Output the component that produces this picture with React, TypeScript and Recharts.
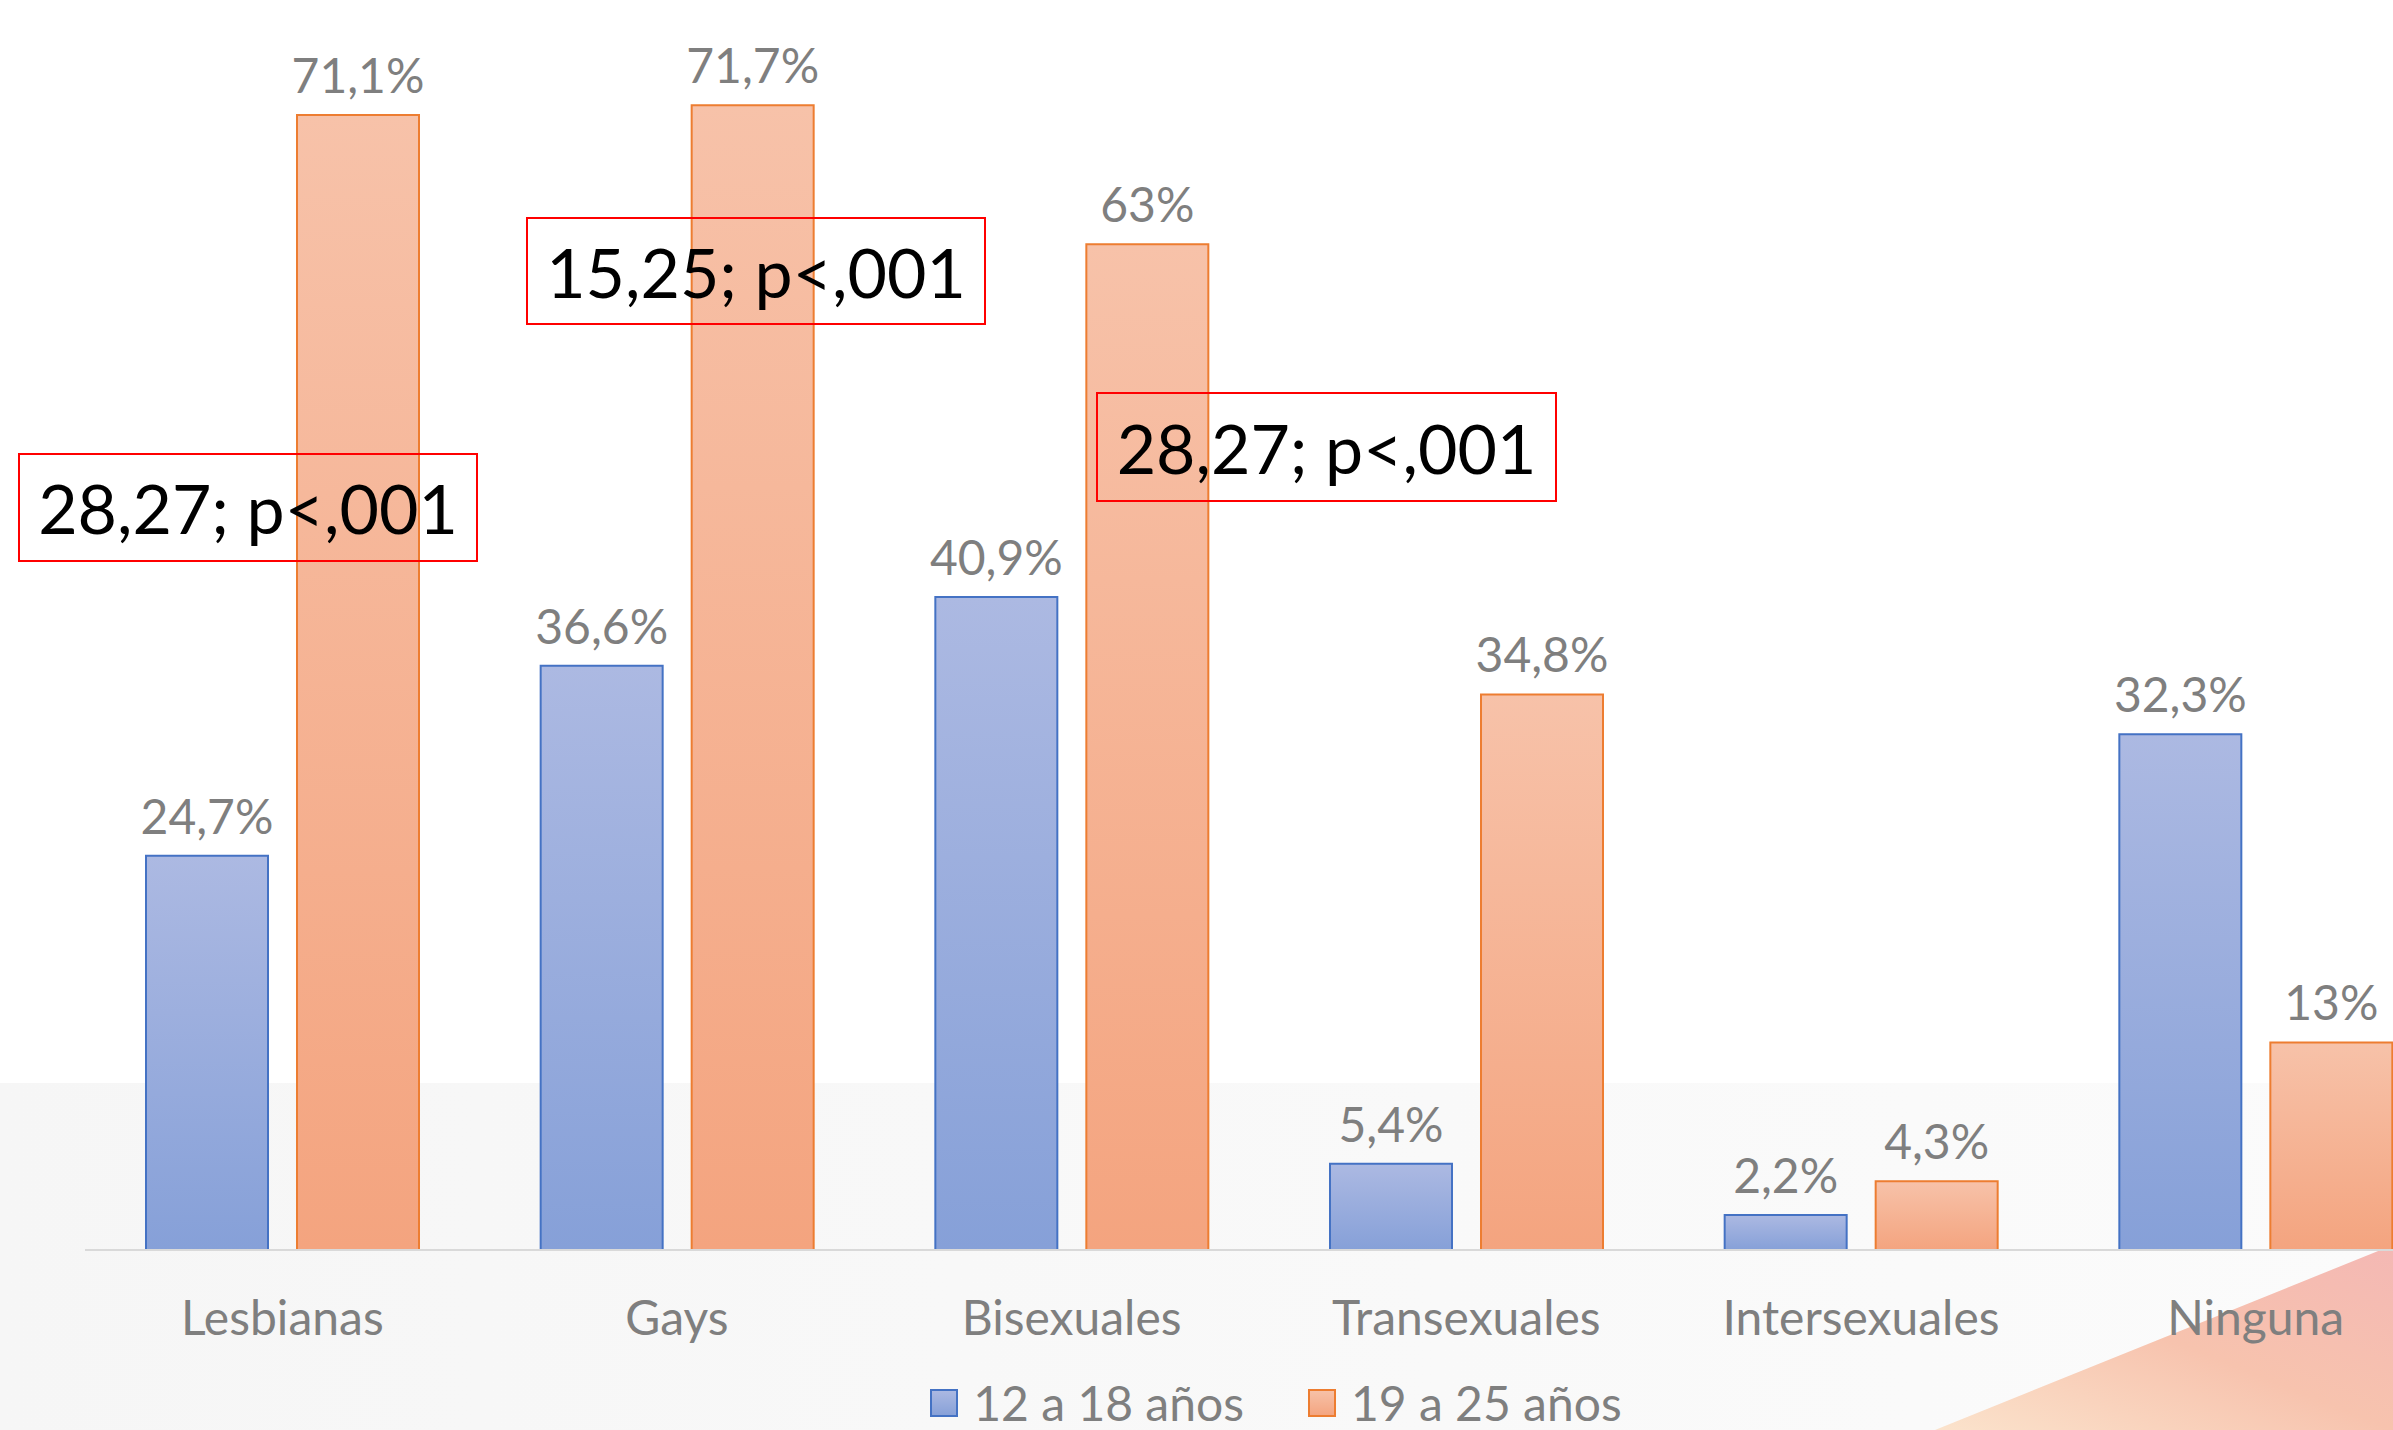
import { BarChart, Bar, XAxis, YAxis, LabelList } from 'recharts';

const categories = ['Lesbianas', 'Gays', 'Bisexuales', 'Transexuales', 'Intersexuales', 'Ninguna'];
const young = [24.7, 36.6, 40.9, 5.4, 2.2, 32.3];
const older = [71.1, 71.7, 63, 34.8, 4.3, 13];
const seriesNames = ['12 a 18 años', '19 a 25 años'];
const notes = ['28,27; p<,001', '15,25; p<,001', '28,27; p<,001'];

const data = categories.map((name, i) => ({ name, young: young[i], older: older[i] }));

const fmt = (v: any) => String(v).replace('.', ',') + '%';

const FONT = 'Lato, "Open Sans", sans-serif';
const GRAY = '#7f7f7f';

// where the three chi-square boxes sit on the slide
const noteBoxes = [
    { left: 18, top: 453, width: 460, height: 109 },
    { left: 526, top: 217, width: 460, height: 108 },
    { left: 1096, top: 392, width: 461, height: 110 },
];

const legendItems = [
    { label: seriesNames[0], fill: 'url(#gBlue)', stroke: '#4472c4' },
    { label: seriesNames[1], fill: 'url(#gOrange)', stroke: '#ed7d31' },
];

function LegendBox() {
    return (
        <div style={{ position: 'absolute', left: 92, top: 1374, width: 2368, display: 'flex', justifyContent: 'center', gap: 64, fontFamily: FONT, fontSize: 48, color: GRAY }}>
            {legendItems.map((it) => (
                <div key={it.label} style={{ display: 'flex', alignItems: 'center', gap: 15 }}>
                    <svg width={28} height={28}>
                        <rect x={1} y={1} width={26} height={26} fill={it.fill} stroke={it.stroke} strokeWidth={2} />
                    </svg>
                    <span>{it.label}</span>
                </div>
            ))}
        </div>
    );
}

export default function App() {
    return (
        <div style={{ position: 'absolute', left: 0, top: 0, width: 2393, height: 1430, overflow: 'hidden', background: '#fff' }}>
            <div style={{ position: 'absolute', left: 0, top: 1083, width: 2393, height: 347, background: 'linear-gradient(to right, #f6f6f6, #fbfbfb)' }} />
            <svg style={{ position: 'absolute', left: 0, top: 0 }} width={2393} height={1430}>
                <defs>
                    <linearGradient id="deco" x1="0" y1="1" x2="1" y2="0">
                        <stop offset="0%" stopColor="#fbe3cc" />
                        <stop offset="50%" stopColor="#f7c3ae" />
                        <stop offset="100%" stopColor="#f4b8b4" />
                    </linearGradient>
                </defs>
                <polygon points="1935,1430 2393,1245 2393,1430" fill="url(#deco)" />
            </svg>
            <div style={{ position: 'absolute', left: 0, top: 0 }}>
                <BarChart width={2470} height={1430} data={data} margin={{ top: 0, right: 17, bottom: 0, left: 85 }} barSize={122} barGap={29}>
                    <defs>
                        <linearGradient id="gBlue" x1="0" y1="0" x2="0" y2="1">
                            <stop offset="0%" stopColor="#acb9e2" />
                            <stop offset="100%" stopColor="#86a0d8" />
                        </linearGradient>
                        <linearGradient id="gOrange" x1="0" y1="0" x2="0" y2="1">
                            <stop offset="0%" stopColor="#f7c2a9" />
                            <stop offset="100%" stopColor="#f4a47f" />
                        </linearGradient>
                    </defs>
                    <XAxis
                        dataKey="name"
                        height={180}
                        axisLine={{ stroke: '#d9d9d9', strokeWidth: 2 }}
                        tickLine={false}
                        tickMargin={45}
                        interval={0}
                        tick={{ fontFamily: FONT, fontSize: 48, fill: GRAY }}
                    />
                    <YAxis hide domain={[0, 78.3]} />
                    <Bar dataKey="young" name={seriesNames[0]} fill="url(#gBlue)" stroke="#4472c4" strokeWidth={2} isAnimationActive={false}>
                        <LabelList dataKey="young" position="top" offset={22} formatter={fmt} style={{ fontFamily: FONT, fontSize: 48, fill: GRAY }} />
                    </Bar>
                    <Bar dataKey="older" name={seriesNames[1]} fill="url(#gOrange)" stroke="#ed7d31" strokeWidth={2} isAnimationActive={false}>
                        <LabelList dataKey="older" position="top" offset={22} formatter={fmt} style={{ fontFamily: FONT, fontSize: 48, fill: GRAY }} />
                    </Bar>
                </BarChart>
            </div>
            <LegendBox />
            {noteBoxes.map((b, i) => (
                <div
                    key={i}
                    style={{
                        position: 'absolute',
                        left: b.left,
                        top: b.top,
                        width: b.width,
                        height: b.height,
                        boxSizing: 'border-box',
                        border: '2px solid #ff0000',
                        display: 'flex',
                        alignItems: 'center',
                        justifyContent: 'center',
                        fontFamily: FONT,
                        fontSize: 68,
                        color: '#000',
                    }}
                >
                    {notes[i]}
                </div>
            ))}
        </div>
    );
}
